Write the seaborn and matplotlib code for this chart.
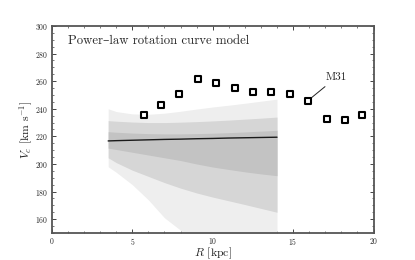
import numpy as np
import matplotlib
matplotlib.use('Agg')
import matplotlib.pyplot as plt
import seaborn as sns
from matplotlib.ticker import MultipleLocator

# M31 rotation curve points
r_obs = [5.7, 6.8, 7.9, 9.1, 10.2, 11.4, 12.5, 13.6, 14.8, 15.9, 17.1, 18.2, 19.3]
v_obs = [235.3, 242.8, 250.9, 261.8, 258.9, 255.1, 252.0, 252.2, 250.9, 245.7, 232.8, 231.9, 235.5]

# power-law model: median and credible bands
r_mod = [3.5, 4, 5, 6, 7, 8, 9, 10, 11, 12, 13, 14]
v_med = [216.7, 216.9, 217.2, 217.5, 217.8, 218.0, 218.3, 218.5, 218.8, 219.0, 219.2, 219.4]
s1_hi = [223.4, 223.0, 222.4, 222.0, 221.8, 221.8, 222.0, 222.3, 222.7, 223.2, 223.8, 224.4]
s1_lo = [211.5, 210.5, 208.5, 206.5, 204.5, 202.5, 200.0, 197.8, 196.0, 194.3, 192.8, 191.5]
s2_hi = [231.4, 231.0, 230.4, 230.0, 230.0, 230.3, 230.7, 231.2, 231.8, 232.5, 233.2, 234.0]
s2_lo = [204.5, 201.0, 195.5, 191.0, 186.5, 182.5, 179.0, 176.0, 173.3, 170.6, 167.8, 165.0]
s3_hi = [240.0, 238.0, 236.3, 236.0, 236.8, 238.2, 239.8, 241.3, 242.6, 244.0, 245.5, 247.0]
s3_lo = [198.0, 194.0, 185.0, 174.0, 161.0, 152.0, 141.0, 130.0, 119.0, 108.0, 97.0, 86.0]

sns.set_style('ticks')
plt.rcParams['font.family'] = ['cmr10', 'DejaVu Serif']
plt.rcParams['mathtext.fontset'] = 'cm'
plt.rcParams['axes.formatter.use_mathtext'] = True

fig, ax = plt.subplots(figsize=(4.15, 2.6), dpi=100)
fig.subplots_adjust(left=0.125, right=0.9, bottom=0.104, top=0.9)

ax.fill_between(r_mod, s3_lo, s3_hi, color='#eeeeee', lw=0)
ax.fill_between(r_mod, s2_lo, s2_hi, color='#d6d6d6', lw=0)
ax.fill_between(r_mod, s1_lo, s1_hi, color='#c3c3c3', lw=0)
sns.lineplot(x=r_mod, y=v_med, color='#1a1a1a', lw=1.0, ax=ax)

sns.scatterplot(x=r_obs, y=v_obs, marker='s', s=22, facecolor='white',
                edgecolor='black', linewidth=1.5, ax=ax, zorder=5)

ax.annotate('M31', xy=(r_obs[9], v_obs[9]), xytext=(17.0, 262.5),
            ha='left', va='center', fontsize=8,
            arrowprops=dict(arrowstyle='-', lw=0.7, color='#222222',
                            shrinkA=1, shrinkB=3))

ax.text(1.0, 289, 'Power\u2013law rotation curve model', fontsize=9.2,
        ha='left', va='center')

ax.set_xlim(0, 20)
ax.set_ylim(150, 300)
ax.xaxis.set_major_locator(MultipleLocator(5))
ax.xaxis.set_minor_locator(MultipleLocator(1))
ax.yaxis.set_major_locator(MultipleLocator(20))
ax.yaxis.set_minor_locator(MultipleLocator(5))
ax.tick_params(which='both', direction='in', top=True, right=True,
               labelsize=5.5, color='#444444', pad=2.5)
ax.tick_params(which='major', length=3, width=0.7)
ax.tick_params(which='minor', length=1.5, width=0.5)
for sp in ax.spines.values():
    sp.set_linewidth(1.3)
    sp.set_color('#555555')

ax.set_xlabel(r'$R$ [kpc]', fontsize=8.5)
ax.set_ylabel(r'$V_c$ [km s$^{-1}$]', fontsize=8.5)
ax.xaxis.set_label_coords(0.5, -0.062)
ax.yaxis.set_label_coords(-0.052, 0.5)

fig.savefig('out.png', dpi=100)
